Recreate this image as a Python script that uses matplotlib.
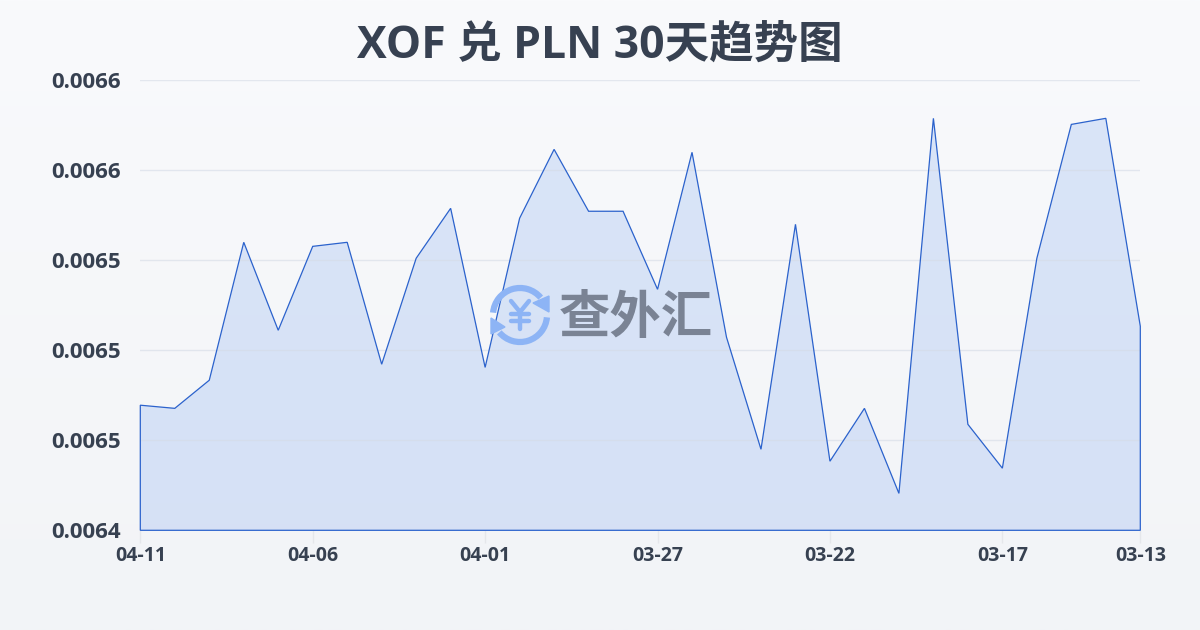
import matplotlib
matplotlib.use("Agg")
import matplotlib.pyplot as plt
import numpy as np
from matplotlib.patches import Arc, Polygon
from matplotlib.ticker import FuncFormatter

plt.rcParams["font.family"] = ["Open Sans", "Noto Sans CJK SC", "DejaVu Sans"]

# newest first, same order as the reference axis
dates = [
    "04-11", "04-10", "04-09", "04-08", "04-07", "04-06", "04-05", "04-04", "04-03", "04-02",
    "04-01", "03-31", "03-30", "03-29", "03-28", "03-27", "03-26", "03-25", "03-24", "03-23",
    "03-22", "03-21", "03-20", "03-19", "03-18", "03-17", "03-16", "03-15", "03-14", "03-13",
]
rates = [
    0.0064756, 0.0064742, 0.0064867, 0.0065480, 0.0065089, 0.0065462, 0.0065480, 0.0064938, 0.0065409, 0.0065631,
    0.0064924, 0.0065587, 0.0065893, 0.0065618, 0.0065618, 0.0065271, 0.0065880, 0.0065058, 0.0064560, 0.0065560,
    0.0064507, 0.0064742, 0.0064364, 0.0066031, 0.0064671, 0.0064476, 0.0065409, 0.0066004, 0.0066031, 0.0065107,
]
y_ticks = [0.00642, 0.00646, 0.00650, 0.00654, 0.00658, 0.00662]
x_tick_idx = [0, 5, 10, 15, 20, 25, 29]

LINE = "#2b62cc"
FILL = "#3f7cec"
TEXT = "#374151"

fig = plt.figure(figsize=(12, 6.3), dpi=100)

# page background gradient
bg = fig.add_axes([0, 0, 1, 1], zorder=0)
bg.imshow(np.linspace(0, 1, 256).reshape(-1, 1), aspect="auto", extent=[0, 1, 0, 1],
          cmap=matplotlib.colors.LinearSegmentedColormap.from_list("bg", ["#f9fafc", "#f2f4f7"]))
bg.axis("off")

ax = fig.add_axes([140.3 / 1200, 1 - 530.3 / 630, 1000 / 1200, 450 / 630], zorder=1)
ax.patch.set_alpha(0)
x = np.arange(len(rates))
ax.set_xlim(0, len(rates) - 1)
ax.set_ylim(y_ticks[0], y_ticks[-1])

verts = list(zip(x, rates)) + [(x[-1], y_ticks[0]), (x[0], y_ticks[0])]
ax.add_patch(Polygon(verts, closed=True, facecolor=FILL, alpha=0.16, edgecolor="none", zorder=2))
ax.add_patch(Polygon(verts, closed=True, facecolor="none", edgecolor=LINE, linewidth=0.9,
                     joinstyle="miter", zorder=4, clip_on=False))

ax.set_yticks(y_ticks)
ax.yaxis.set_major_formatter(FuncFormatter(lambda v, _: f"{v:.4f}"))
ax.set_xticks(x_tick_idx)
ax.set_xticklabels([dates[i] for i in x_tick_idx])
ax.grid(axis="y", color="#d5dbe6", alpha=0.6, linewidth=1, zorder=3)
ax.set_axisbelow(False)
for s in ax.spines.values():
    s.set_visible(False)
ax.tick_params(axis="y", length=0, pad=14, labelsize=16, labelcolor=TEXT)
ax.tick_params(axis="x", length=9, width=1, color="#e5e7eb", pad=2, labelsize=14, labelcolor=TEXT)
for lab in ax.get_xticklabels() + ax.get_yticklabels():
    lab.set_fontweight("bold")

fig.text(0.5, 1 - 46 / 630, "XOF 兑 PLN 30天趋势图", ha="center", va="center",
         fontsize=32, fontweight="bold", color="#374151")

# watermark, pixel coordinates
wm = fig.add_axes([0, 0, 1, 1], zorder=2)
wm.set_xlim(0, 1200)
wm.set_ylim(630, 0)
wm.axis("off")
ICON = "#8db4f5"
wm.add_patch(Arc((520, 315), 54, 54, theta1=185, theta2=320, color=ICON, lw=4.5))
wm.add_patch(Arc((520, 315), 54, 54, theta1=5, theta2=140, color=ICON, lw=4.5))
wm.add_patch(Polygon([(549, 296), (549, 312), (533, 303)], closed=True, color=ICON))
wm.add_patch(Polygon([(491, 318), (491, 334), (505, 327)], closed=True, color=ICON))
# yen sign of the logo, rounded strokes
for xs, ys in [([511, 520, 529], [301, 312, 301]), ([520, 520], [312, 329]),
               ([511, 529], [314, 314]), ([511, 529], [321, 321])]:
    wm.plot(xs, ys, color=ICON, lw=3.2, solid_capstyle="round", solid_joinstyle="round")
wm.text(636, 320, "查外汇", ha="center", va="center", fontsize=37, fontweight="bold", color="#7a8394")

fig.savefig("out.png", dpi=100)
plt.close(fig)
